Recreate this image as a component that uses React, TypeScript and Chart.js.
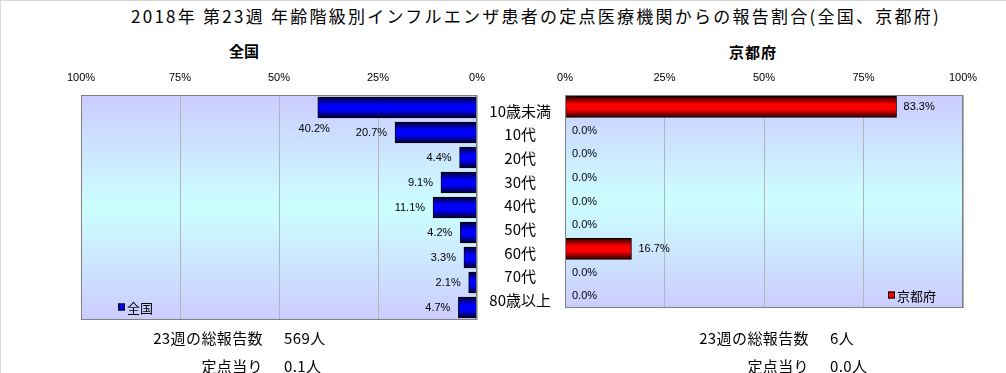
import React, { useEffect, useRef } from "react";
import { Chart, registerables } from "chart.js";

Chart.register(...registerables);

// ---------- data ----------
const chartTitle = "2018年 第23週 年齢階級別インフルエンザ患者の定点医療機関からの報告割合(全国、京都府)";
const categories = ["10歳未満", "10代", "20代", "30代", "40代", "50代", "60代", "70代", "80歳以上"];
const nationalLabel = "全国";
const kyotoLabel = "京都府";
const nationalValues = [40.2, 20.7, 4.4, 9.1, 11.1, 4.2, 3.3, 2.1, 4.7];
const kyotoValues = [83.3, 0.0, 0.0, 0.0, 0.0, 0.0, 16.7, 0.0, 0.0];
const axisMin = 0;
const axisMax = 100;
const axisStep = 25;
const totalLabel = "23週の総報告数";
const perSiteLabel = "定点当り";
const nationalTotal = "569人";
const nationalPerSite = "0.1人";
const kyotoTotal = "6人";
const kyotoPerSite = "0.0人";

// ---------- styles ----------
const CJK = "'Noto Sans CJK JP', 'Noto Sans', sans-serif";
const LATIN = "'Liberation Sans', 'Noto Sans CJK JP', sans-serif";
const BAR = 21;

const barFill = (dark: string, bright: string) => (ctx: any) => {
  const chart = ctx.chart;
  const y = chart.scales && chart.scales.y;
  if (!y || ctx.dataIndex === undefined) return bright;
  const cy = y.getPixelForValue(ctx.dataIndex);
  if (!Number.isFinite(cy)) return bright;
  const g = chart.ctx.createLinearGradient(0, cy - BAR / 2, 0, cy + BAR / 2);
  g.addColorStop(0, dark);
  g.addColorStop(0.38, bright);
  g.addColorStop(0.62, bright);
  g.addColorStop(1, dark);
  return g;
};

const plotBackground = {
  id: "plotBackground",
  beforeDraw(chart: any) {
    const { ctx, chartArea: a } = chart;
    if (!a || !Number.isFinite(a.top) || !Number.isFinite(a.bottom)) return;
    const g = ctx.createLinearGradient(0, a.top, 0, a.bottom);
    g.addColorStop(0, "#CCCCFF");
    g.addColorStop(0.5, "#CCFFFF");
    g.addColorStop(1, "#CCCCFF");
    ctx.save();
    ctx.fillStyle = g;
    ctx.fillRect(a.left, a.top, a.right - a.left, a.bottom - a.top);
    ctx.restore();
  },
  afterDraw(chart: any) {
    const { ctx, chartArea: a } = chart;
    if (!a) return;
    ctx.save();
    ctx.strokeStyle = "#808080";
    ctx.lineWidth = 1;
    ctx.strokeRect(Math.round(a.left) + 0.5, Math.round(a.top) + 0.5, Math.round(a.right - a.left) - 1, Math.round(a.bottom - a.top) - 1);
    ctx.restore();
  },
};

const valueLabels = {
  id: "valueLabels",
  afterDatasetsDraw(chart: any, _args: any, opts: any) {
    const { ctx } = chart;
    const meta = chart.getDatasetMeta(0);
    const data = chart.data.datasets[0].data as number[];
    ctx.save();
    ctx.font = `11px ${LATIN}`;
    ctx.fillStyle = "#000";
    ctx.textBaseline = "middle";
    ctx.textAlign = opts.dir < 0 ? "right" : "left";
    meta.data.forEach((el: any, i: number) => {
      const { x, y } = el.getProps(["x", "y"], true);
      const shift = (opts.shift && opts.shift[i]) || [0, 0];
      ctx.fillText(data[i].toFixed(1) + "%", x + opts.dir * opts.gap + shift[0], y + shift[1]);
    });
    ctx.restore();
  },
};

const innerLegend = {
  id: "innerLegend",
  afterDraw(chart: any, _args: any, opts: any) {
    const { ctx, chartArea: a } = chart;
    if (!a) return;
    const ds = chart.data.datasets[0];
    ctx.save();
    ctx.font = `13px ${CJK}`;
    const tw = ctx.measureText(ds.label).width;
    const box = 7;
    const x0 = opts.align === "left" ? a.left + 37 : a.right - 27 - tw - box - 2;
    const cy = a.bottom - 13;
    ctx.fillStyle = opts.color;
    ctx.fillRect(x0, cy - box / 2, box, box);
    ctx.strokeStyle = "#000";
    ctx.lineWidth = 1;
    ctx.strokeRect(x0 + 0.5, cy - box / 2 + 0.5, box - 1, box - 1);
    ctx.fillStyle = "#000";
    ctx.textBaseline = "middle";
    ctx.textAlign = "left";
    ctx.fillText(ds.label, x0 + box + 2, cy + 1);
    ctx.restore();
  },
};

function makeConfig(side: "left" | "right"): any {
  const isLeft = side === "left";
  return {
    type: "bar",
    data: {
      labels: categories,
      datasets: [
        {
          label: isLeft ? nationalLabel : kyotoLabel,
          data: isLeft ? nationalValues : kyotoValues,
          backgroundColor: isLeft ? barFill("#000030", "#0000FF") : barFill("#300000", "#FF0000"),
          borderColor: "#000000",
          borderWidth: 1,
          borderSkipped: false,
          barThickness: BAR,
        },
      ],
    },
    plugins: [plotBackground, valueLabels, innerLegend],
    options: {
      indexAxis: "y",
      responsive: false,
      animation: false,
      devicePixelRatio: 1,
      layout: {
        padding: isLeft
          ? { left: 80, right: 14, top: 0, bottom: 11 }
          : { left: 0, right: 44, top: 0, bottom: 11 },
      },
      scales: {
        x: {
          position: "top",
          reverse: isLeft,
          min: axisMin,
          max: axisMax,
          border: { display: false },
          grid: { color: "#B4B4B4", drawTicks: false, lineWidth: 1 },
          ticks: {
            stepSize: axisStep,
            padding: 10,
            color: "#000",
            font: { family: LATIN, size: 11 },
            callback: (v: any) => v + "%",
            maxRotation: 0,
          },
          afterFit: (s: any) => {
            s.height = 34;
            s.paddingLeft = 0;
            s.paddingRight = 0;
          },
        },
        y: {
          display: !isLeft,
          border: { display: false },
          grid: { display: false, drawTicks: false },
          ticks: {
            autoSkip: false,
            color: "#000",
            font: { family: CJK, size: 15 },
            crossAlign: "center",
            padding: 14,
            labelOffset: 4,
          },
          afterFit: (s: any) => {
            s.width = isLeft ? 0 : 89;
          },
        },
      },
      plugins: {
        legend: { display: false },
        tooltip: { enabled: false },
        title: { display: false },
        valueLabels: isLeft ? { dir: -1, gap: 8, shift: { 0: [20, 21] } } : { dir: 1, gap: 7 },
        innerLegend: isLeft ? { align: "left", color: "#0000FF" } : { align: "right", color: "#FF0000" },
      },
    },
  };
}

const abs = (extra: React.CSSProperties): React.CSSProperties => ({ position: "absolute", whiteSpace: "nowrap", ...extra });

export default function App() {
  const leftRef = useRef<HTMLCanvasElement>(null);
  const rightRef = useRef<HTMLCanvasElement>(null);

  useEffect(() => {
    const c1 = new Chart(leftRef.current as HTMLCanvasElement, makeConfig("left"));
    const c2 = new Chart(rightRef.current as HTMLCanvasElement, makeConfig("right"));
    return () => {
      c1.destroy();
      c2.destroy();
    };
  }, []);

  const footer: React.CSSProperties = { fontFamily: CJK, fontSize: 15, letterSpacing: "0.4px", color: "#000", lineHeight: "20px" };

  return (
    <div
      style={{
        position: "fixed",
        left: 0,
        top: 0,
        width: 1006,
        height: 373,
        background: "#fff",
        borderTop: "1px solid #D8D8D8",
        borderLeft: "1px solid #D8D8D8",
        boxSizing: "border-box",
        overflow: "hidden",
      }}
    >
      <div style={abs({ left: 0, top: 3, width: 1070, textAlign: "center", fontFamily: CJK, fontSize: 17, letterSpacing: "2.25px", lineHeight: "24px", color: "#000" })}>
        {chartTitle}
      </div>
      <div style={abs({ left: 193, top: 40, width: 100, textAlign: "center", fontFamily: CJK, fontSize: 15, fontWeight: "bold", lineHeight: "20px" })}>
        {nationalLabel}
      </div>
      <div style={abs({ left: 702, top: 41, width: 100, textAlign: "center", fontFamily: CJK, fontSize: 15, fontWeight: "bold", letterSpacing: "1px", lineHeight: "20px" })}>
        {kyotoLabel}
      </div>

      <canvas ref={leftRef} width={490} height={270} style={{ position: "absolute", left: 0, top: 60, width: 490, height: 270 }} />
      <canvas ref={rightRef} width={531} height={270} style={{ position: "absolute", left: 475, top: 60, width: 531, height: 270 }} />

      <div style={abs({ ...footer, right: 1006 - 263, top: 327, textAlign: "right" })}>{totalLabel}</div>
      <div style={abs({ ...footer, left: 283, top: 327 })}>{nationalTotal}</div>
      <div style={abs({ ...footer, right: 1006 - 263, top: 355, textAlign: "right" })}>{perSiteLabel}</div>
      <div style={abs({ ...footer, left: 283, top: 355 })}>{nationalPerSite}</div>

      <div style={abs({ ...footer, right: 1006 - 809, top: 327, textAlign: "right" })}>{totalLabel}</div>
      <div style={abs({ ...footer, left: 829, top: 327 })}>{kyotoTotal}</div>
      <div style={abs({ ...footer, right: 1006 - 809, top: 355, textAlign: "right" })}>{perSiteLabel}</div>
      <div style={abs({ ...footer, left: 829, top: 355 })}>{kyotoPerSite}</div>
    </div>
  );
}
